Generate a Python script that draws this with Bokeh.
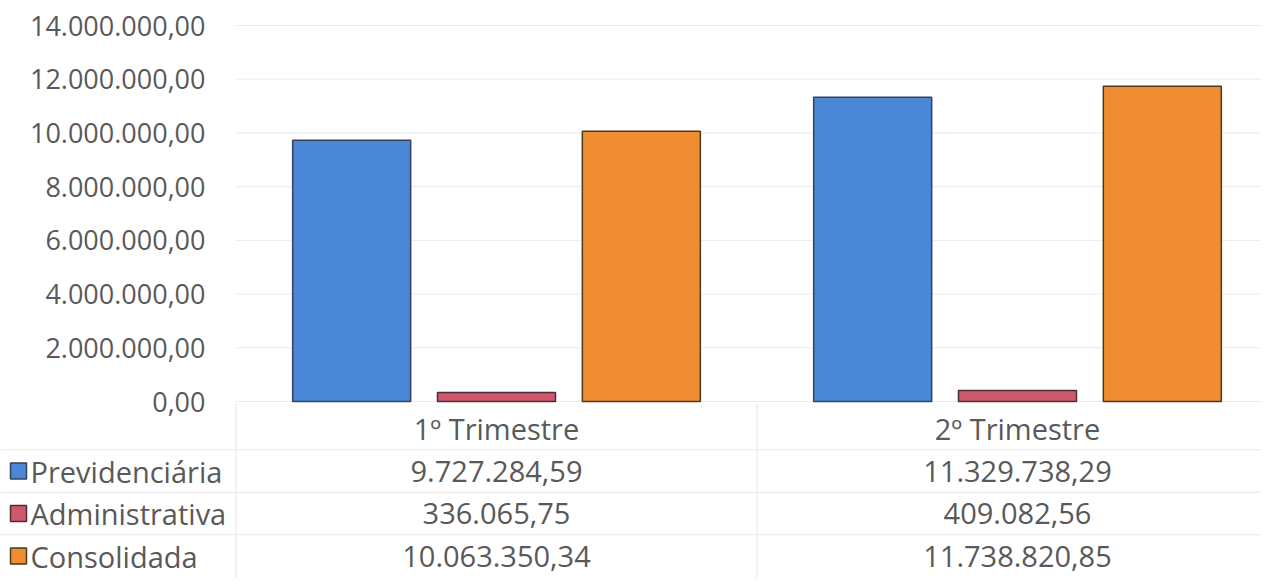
from bokeh.plotting import figure
from bokeh.models import ColumnDataSource, Range1d
from bokeh.transform import dodge
from bokeh.core.properties import value
from bokeh.embed import file_html
from bokeh.resources import INLINE

# ---- data ----
categories = ["1º Trimestre", "2º Trimestre"]
series = ["Previdenciária", "Administrativa", "Consolidada"]
previdenciaria = [9727284.59, 11329738.29]
administrativa = [336065.75, 409082.56]
consolidada = [10063350.34, 11738820.85]
y_ticks = [0, 2000000, 4000000, 6000000, 8000000, 10000000, 12000000, 14000000]

FONT = "Open Sans"
TXT = "#595959"
AXIS_FS = "27px"
TAB_FS = "29px"
GRID = "#ebebeb"
TLINE = "#e6e6e6"

fills = ["#4a87d7", "#d0586c", "#f08c32"]
lines = ["#34435a", "#4a3036", "#4a3a1e"]
offsets = [-0.278, 0.0, 0.278]
BAR_W = 0.2265

# ---- layout constants (pixels of the picture) ----
W, H = 1261, 578
PLOT_LEFT = 235.5        # left edge of the plot area
CAT_PX = 521             # width of one category
TOP_PX = 25              # y of the top value
ZERO_PX = 401            # y of the value 0
ROW0_PX = 428            # y of the table header row
ROW_PITCH = 42.5
LABEL_RIGHT = 205        # right edge of value labels
KEY_X, NAME_X = 18, 30   # legend key centre / legend name start


def fmt(v):
    s = f"{v:,.2f}"
    return s.replace(",", "X").replace(".", ",").replace("X", ".")


def px_x(px):
    return (px - PLOT_LEFT) / CAT_PX


vmax = y_ticks[-1]
per_px = vmax / (ZERO_PX - TOP_PX)
y_range = Range1d(-(H - ZERO_PX) * per_px, vmax + TOP_PX * per_px)
x_range = Range1d(px_x(0), px_x(W))

p = figure(x_range=x_range, y_range=y_range, width=W, height=H,
           output_backend="svg", toolbar_location=None,
           min_border_left=0, min_border_right=0, min_border_top=0, min_border_bottom=0)
p.outline_line_color = None
p.axis.visible = False
p.grid.visible = False

# table rows range
p.extra_y_ranges = {"rows": Range1d((H - ROW0_PX) / ROW_PITCH, -ROW0_PX / ROW_PITCH)}

n_cat = len(categories)
pos = [i + 0.5 for i in range(n_cat)]

# value gridlines and value labels
gsrc = ColumnDataSource(dict(y=y_ticks, text=[fmt(t) for t in y_ticks]))
p.segment(x0=0, x1=n_cat, y0="y", y1="y", source=gsrc, line_color=GRID, line_width=1)
p.text(x=px_x(LABEL_RIGHT), y="y", text="text", source=gsrc, text_align="right",
       text_baseline="middle", text_font=value(FONT), text_font_size=AXIS_FS,
       text_color=TXT)

# bars
source = ColumnDataSource(dict(pos=pos, prev=previdenciaria,
                               adm=administrativa, cons=consolidada))
for key, off, fc, lc in zip(["prev", "adm", "cons"], offsets, fills, lines):
    p.vbar(x=dodge("pos", off), top=key, width=BAR_W, source=source,
           fill_color=fc, line_color=lc, line_width=1.5)

# ---- data table ----
n_ser = len(series)
hl = ColumnDataSource(dict(y=[r + 0.5 for r in range(n_ser)]))
p.segment(x0=px_x(0), x1=n_cat, y0="y", y1="y", source=hl, y_range_name="rows",
          line_color=TLINE, line_width=1)
vl = ColumnDataSource(dict(x=list(range(n_cat + 1))))
p.segment(x0="x", x1="x", y0=-0.6, y1=n_ser + 0.7, source=vl, y_range_name="rows",
          line_color=TLINE, line_width=1)

hdr = ColumnDataSource(dict(x=pos, y=[0] * n_cat, text=categories))
p.text(x="x", y="y", text="text", source=hdr, y_range_name="rows",
       text_align="center", text_baseline="middle",
       text_font=value(FONT), text_font_size=TAB_FS, text_color=TXT)

xs, ys, texts = [], [], []
for i, vals in enumerate([previdenciaria, administrativa, consolidada]):
    for x, v in zip(pos, vals):
        xs.append(x)
        ys.append(i + 1)
        texts.append(fmt(v))
vals_src = ColumnDataSource(dict(x=xs, y=ys, text=texts))
p.text(x="x", y="y", text="text", source=vals_src, y_range_name="rows",
       text_align="center", text_baseline="middle",
       text_font=value(FONT), text_font_size=TAB_FS, text_color=TXT)

# legend keys and names of the table rows
leg = ColumnDataSource(dict(y=list(range(1, n_ser + 1)), name=series,
                            fill=fills, line=lines))
p.scatter(x=px_x(KEY_X), y="y", marker="square", size=16, source=leg, y_range_name="rows",
          fill_color="fill", line_color="line", line_width=1.5)
p.text(x=px_x(NAME_X), y="y", text="name", source=leg, y_range_name="rows",
       text_align="left", text_baseline="middle",
       text_font=value(FONT), text_font_size=TAB_FS, text_color=TXT)

open("out.html", "w").write(file_html(p, INLINE))
